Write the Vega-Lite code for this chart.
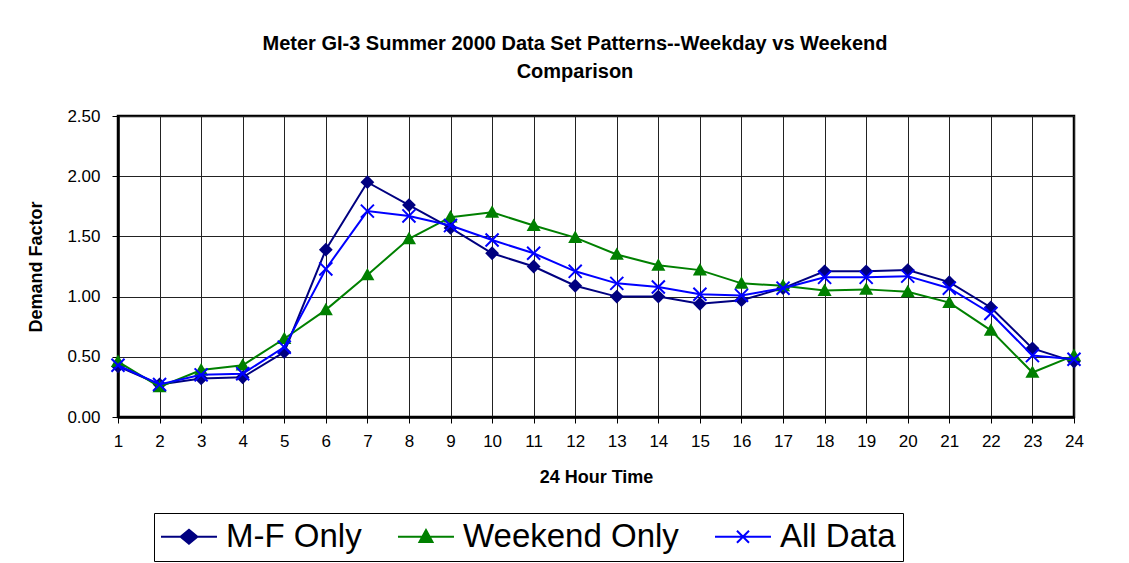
{
  "$schema": "https://vega.github.io/schema/vega-lite/v6.json",
  "width": 956,
  "height": 301,
  "autosize": {"type": "none"},
  "padding": {"left": 118, "top": 116, "right": 55, "bottom": 146},
  "background": "white",
  "config": {
    "font": "Liberation Sans",
    "view": {"stroke": "#000", "strokeWidth": 2.5},
    "axis": {
      "grid": true, "gridColor": "#222", "gridWidth": 1, "gridOpacity": 1,
      "domainColor": "#000", "domainWidth": 2.5,
      "tickColor": "#000", "tickSize": 6, "tickWidth": 1,
      "labelFont": "Liberation Sans", "labelFontSize": 17, "labelColor": "#000",
      "titleFont": "Liberation Sans", "titleFontSize": 18, "titleFontWeight": "bold", "titleColor": "#000"
    },
    "legend": {
      "title": null,
      "orient": "none",
      "legendX": 36,
      "legendY": 397,
      "direction": "horizontal",
      "padding": 7,
      "strokeColor": "#000",
      "fillColor": "white",
      "labelFont": "Liberation Sans",
      "labelFontSize": 33,
      "labelColor": "#000",
      "labelOffset": 32,
      "labelLimit": 400,
      "columnPadding": 31,
      "symbolSize": 196,
      "symbolStrokeWidth": 2,
      "symbolOpacity": 1
    }
  },
  "title": {
    "text": ["Meter GI-3 Summer 2000 Data Set Patterns--Weekday vs Weekend", "Comparison"],
    "font": "Liberation Sans",
    "fontSize": 20,
    "fontWeight": "bold",
    "color": "#000",
    "anchor": "middle",
    "dx": -21,
    "lineHeight": 28,
    "offset": 25
  },
  "data": {
    "values": [
      {"hour": 1, "series": "M-F Only", "value": 0.42}, {"hour": 1, "series": "Weekend Only", "value": 0.46}, {"hour": 1, "series": "All Data", "value": 0.43},
      {"hour": 2, "series": "M-F Only", "value": 0.27}, {"hour": 2, "series": "Weekend Only", "value": 0.25}, {"hour": 2, "series": "All Data", "value": 0.27},
      {"hour": 3, "series": "M-F Only", "value": 0.32}, {"hour": 3, "series": "Weekend Only", "value": 0.39}, {"hour": 3, "series": "All Data", "value": 0.35},
      {"hour": 4, "series": "M-F Only", "value": 0.33}, {"hour": 4, "series": "Weekend Only", "value": 0.43}, {"hour": 4, "series": "All Data", "value": 0.36},
      {"hour": 5, "series": "M-F Only", "value": 0.54}, {"hour": 5, "series": "Weekend Only", "value": 0.65}, {"hour": 5, "series": "All Data", "value": 0.58},
      {"hour": 6, "series": "M-F Only", "value": 1.39}, {"hour": 6, "series": "Weekend Only", "value": 0.89}, {"hour": 6, "series": "All Data", "value": 1.23},
      {"hour": 7, "series": "M-F Only", "value": 1.95}, {"hour": 7, "series": "Weekend Only", "value": 1.18}, {"hour": 7, "series": "All Data", "value": 1.71},
      {"hour": 8, "series": "M-F Only", "value": 1.76}, {"hour": 8, "series": "Weekend Only", "value": 1.48}, {"hour": 8, "series": "All Data", "value": 1.67},
      {"hour": 9, "series": "M-F Only", "value": 1.57}, {"hour": 9, "series": "Weekend Only", "value": 1.66}, {"hour": 9, "series": "All Data", "value": 1.59},
      {"hour": 10, "series": "M-F Only", "value": 1.36}, {"hour": 10, "series": "Weekend Only", "value": 1.70}, {"hour": 10, "series": "All Data", "value": 1.47},
      {"hour": 11, "series": "M-F Only", "value": 1.25}, {"hour": 11, "series": "Weekend Only", "value": 1.59}, {"hour": 11, "series": "All Data", "value": 1.36},
      {"hour": 12, "series": "M-F Only", "value": 1.09}, {"hour": 12, "series": "Weekend Only", "value": 1.49}, {"hour": 12, "series": "All Data", "value": 1.21},
      {"hour": 13, "series": "M-F Only", "value": 1.00}, {"hour": 13, "series": "Weekend Only", "value": 1.35}, {"hour": 13, "series": "All Data", "value": 1.11},
      {"hour": 14, "series": "M-F Only", "value": 1.00}, {"hour": 14, "series": "Weekend Only", "value": 1.26}, {"hour": 14, "series": "All Data", "value": 1.08},
      {"hour": 15, "series": "M-F Only", "value": 0.94}, {"hour": 15, "series": "Weekend Only", "value": 1.22}, {"hour": 15, "series": "All Data", "value": 1.02},
      {"hour": 16, "series": "M-F Only", "value": 0.97}, {"hour": 16, "series": "Weekend Only", "value": 1.11}, {"hour": 16, "series": "All Data", "value": 1.01},
      {"hour": 17, "series": "M-F Only", "value": 1.07}, {"hour": 17, "series": "Weekend Only", "value": 1.09}, {"hour": 17, "series": "All Data", "value": 1.07},
      {"hour": 18, "series": "M-F Only", "value": 1.21}, {"hour": 18, "series": "Weekend Only", "value": 1.05}, {"hour": 18, "series": "All Data", "value": 1.16},
      {"hour": 19, "series": "M-F Only", "value": 1.21}, {"hour": 19, "series": "Weekend Only", "value": 1.06}, {"hour": 19, "series": "All Data", "value": 1.16},
      {"hour": 20, "series": "M-F Only", "value": 1.22}, {"hour": 20, "series": "Weekend Only", "value": 1.04}, {"hour": 20, "series": "All Data", "value": 1.17},
      {"hour": 21, "series": "M-F Only", "value": 1.12}, {"hour": 21, "series": "Weekend Only", "value": 0.95}, {"hour": 21, "series": "All Data", "value": 1.07},
      {"hour": 22, "series": "M-F Only", "value": 0.91}, {"hour": 22, "series": "Weekend Only", "value": 0.72}, {"hour": 22, "series": "All Data", "value": 0.86},
      {"hour": 23, "series": "M-F Only", "value": 0.57}, {"hour": 23, "series": "Weekend Only", "value": 0.37}, {"hour": 23, "series": "All Data", "value": 0.51},
      {"hour": 24, "series": "M-F Only", "value": 0.46}, {"hour": 24, "series": "Weekend Only", "value": 0.51}, {"hour": 24, "series": "All Data", "value": 0.48}
    ]
  },
  "encoding": {
    "x": {
      "field": "hour", "type": "quantitative",
      "scale": {"domain": [1, 24], "nice": false, "zero": false},
      "axis": {"values": [1,2,3,4,5,6,7,8,9,10,11,12,13,14,15,16,17,18,19,20,21,22,23,24], "format": "d", "title": "24 Hour Time", "labelPadding": 10, "titlePadding": 19, "labelFlush": false}
    },
    "y": {
      "field": "value", "type": "quantitative",
      "scale": {"domain": [0, 2.5], "nice": false},
      "axis": {"values": [0, 0.5, 1, 1.5, 2, 2.5], "format": ".2f", "title": "Demand Factor", "labelPadding": 12, "titlePadding": 21}
    },
    "color": {
      "field": "series", "type": "nominal",
      "scale": {"domain": ["M-F Only", "Weekend Only", "All Data"], "range": ["#000080", "#008000", "#0000FF"]},
      "legend": {
        "symbolType": {"expr": "datum.value === 'M-F Only' ? 'M-2.36,0L5.64,0M1.64,-1L2.84,0L1.64,1L0.44,0Z' : datum.value === 'Weekend Only' ? 'M-2.36,0L5.64,0M1.64,-0.95L2.57,0.75L0.71,0.75Z' : 'M-2.36,0L5.64,0M0.78,-0.86L2.5,0.86M0.78,0.86L2.5,-0.86'"},
        "encoding": {
          "symbols": {
            "shape": {"value": {"expr": "datum.value === 'M-F Only' ? 'M-2.36,0L5.64,0M1.64,-1L2.84,0L1.64,1L0.44,0Z' : datum.value === 'Weekend Only' ? 'M-2.36,0L5.64,0M1.64,-0.95L2.57,0.75L0.71,0.75Z' : 'M-2.36,0L5.64,0M0.78,-0.86L2.5,0.86M0.78,0.86L2.5,-0.86'"}},
            "size": {"value": 196},
            "fill": {"value": {"expr": "scale('color', datum.value)"}},
            "stroke": {"value": {"expr": "scale('color', datum.value)"}},
            "strokeWidth": {"value": 2}
          }
        }
      }
    }
  },
  "layer": [
    {
      "transform": [{"filter": "datum.series === 'M-F Only'"}],
      "mark": {"type": "line", "strokeWidth": 2}
    },
    {
      "transform": [{"filter": "datum.series === 'M-F Only'"}],
      "mark": {"type": "point", "filled": true, "opacity": 1, "size": 190, "shape": "M0,-1L1,0L0,1L-1,0Z"}
    },
    {
      "transform": [{"filter": "datum.series === 'Weekend Only'"}],
      "mark": {"type": "line", "strokeWidth": 2}
    },
    {
      "transform": [{"filter": "datum.series === 'Weekend Only'"}],
      "mark": {"type": "point", "filled": true, "opacity": 1, "size": 180, "shape": "M0,-1.05L1.05,0.8L-1.05,0.8Z"}
    },
    {
      "transform": [{"filter": "datum.series === 'All Data'"}],
      "mark": {"type": "line", "strokeWidth": 2}
    },
    {
      "transform": [{"filter": "datum.series === 'All Data'"}],
      "mark": {"type": "point", "filled": false, "opacity": 1, "strokeWidth": 2, "size": 170, "shape": "M-1,-1L1,1M-1,1L1,-1"}
    }
  ]
}
